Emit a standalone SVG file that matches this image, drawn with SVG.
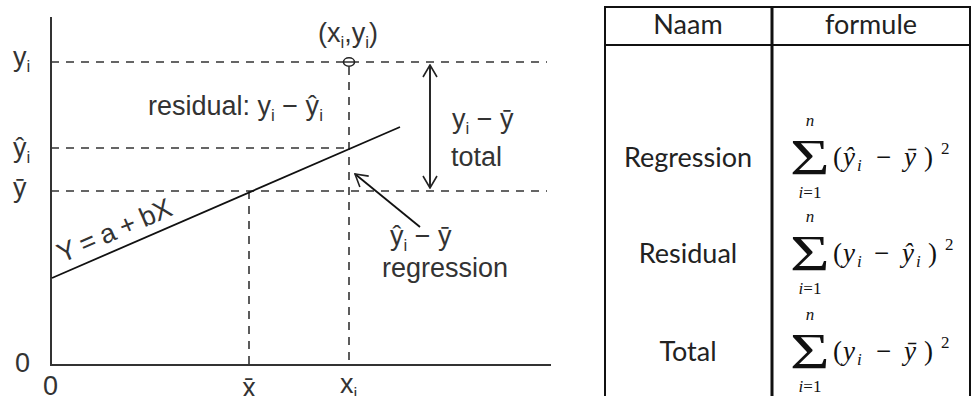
<svg xmlns="http://www.w3.org/2000/svg" width="971" height="396" viewBox="0 0 971 396">
<defs>
<style>
.lbl{font-family:"Liberation Sans",Arial,sans-serif;font-size:27px;fill:#333}
.sub{font-size:17px}
.tbl{font-family:Lato,"Liberation Sans",sans-serif;font-size:27px;fill:#222;text-anchor:middle}
.math{font-family:"Liberation Serif","DejaVu Serif",serif;font-style:italic;font-size:27px;fill:#111}
.up{font-style:normal}
.small{font-size:17px}
.dash{stroke:#333;stroke-width:1.6;stroke-dasharray:8 7;fill:none}
.axis{stroke:#333;stroke-width:2;fill:none}
.line{stroke:#111;stroke-width:1.8;fill:none}
.grid{stroke:#111;fill:none}
</style>
<marker id="ah" viewBox="0 0 14 16" refX="13" refY="8" markerWidth="14" markerHeight="16" markerUnits="userSpaceOnUse" orient="auto-start-reverse">
<path d="M1,1 L13,8 L1,15" fill="none" stroke="#222" stroke-width="1.6"/>
</marker>
</defs>
<rect width="971" height="396" fill="#fff"/>

<g id="axes">
<line class="axis" x1="51" y1="17" x2="51" y2="366"/>
<line class="axis" x1="50" y1="365" x2="551" y2="365"/>
</g>

<g id="connectors">
<line class="dash" x1="51" y1="62" x2="547" y2="62"/>
<line class="dash" x1="51" y1="148" x2="350" y2="148"/>
<line class="dash" x1="51" y1="191" x2="547" y2="191"/>
<line class="dash" x1="249" y1="191" x2="249" y2="364"/>
<line class="dash" x1="349" y1="67" x2="349" y2="364"/>
<line class="line" x1="52" y1="278" x2="400" y2="127"/>
<line class="line" x1="430" y1="65" x2="430" y2="188" marker-start="url(#ah)" marker-end="url(#ah)"/>
<line class="line" x1="420" y1="227" x2="355" y2="174" marker-end="url(#ah)"/>
</g>

<g id="point">
<ellipse cx="349" cy="62" rx="5.5" ry="4.2" fill="#fff" stroke="#222" stroke-width="1.6"/>
<line x1="343" y1="62" x2="355" y2="62" stroke="#222" stroke-width="1.4"/>
</g>

<g id="axis-labels">
<text class="lbl" x="13" y="66">y<tspan class="sub" dy="6">i</tspan></text>
<text class="lbl" x="13" y="157">ŷ<tspan class="sub" dy="6">i</tspan></text>
<text class="lbl" x="13" y="197">ȳ</text>
<text class="lbl" x="15" y="372">0</text>
<text class="lbl" x="43" y="395">0</text>
<text class="lbl" x="249" y="397" text-anchor="middle">x̄</text>
<text class="lbl" x="340" y="393">x<tspan class="sub" dy="6">i</tspan></text>
</g>

<g id="annotations">
<text class="lbl" x="318" y="42">(x<tspan class="sub" dy="6">i</tspan><tspan dy="-6">,y</tspan><tspan class="sub" dy="6">i</tspan><tspan dy="-6">)</tspan></text>
<text class="lbl" x="148" y="115">residual: y<tspan class="sub" dy="6">i</tspan><tspan dy="-6"> − ŷ</tspan><tspan class="sub" dy="6">i</tspan></text>
<text class="lbl" x="452" y="128">y<tspan class="sub" dy="6">i</tspan><tspan dy="-6"> − ȳ</tspan></text>
<text class="lbl" x="451" y="166">total</text>
<text class="lbl" x="390" y="245">ŷ<tspan class="sub" dy="6">i</tspan><tspan dy="-6"> − ȳ</tspan></text>
<text class="lbl" x="382" y="277">regression</text>
<text class="lbl" x="62" y="263" transform="rotate(-23.4 62 263)" textLength="122" lengthAdjust="spacing">Y = a + bX</text>
</g>

<g id="table">
<path class="grid" stroke-width="2" d="M605,396 V7 H970 V396"/>
<line class="grid" stroke-width="2" x1="605" y1="45" x2="970" y2="45"/>
<line class="grid" stroke-width="3" x1="772" y1="7" x2="772" y2="396"/>
<text class="tbl" x="688" y="34">Naam</text>
<text class="tbl" x="871" y="34">formule</text>
</g>

<g id="row-regression">
<text class="tbl" x="688" y="167">Regression</text>
<text class="math up" transform="translate(790 174) scale(1.36 1)" style="font-size:50px">Σ</text>
<text class="math small" x="810" y="126" text-anchor="middle">n</text>
<text class="math small" x="810" y="198" text-anchor="middle">i<tspan class="up">=1</tspan></text>
<text class="math"><tspan class="up" x="833" y="166">(</tspan><tspan x="843">ŷ</tspan><tspan class="small" x="857" dy="5">i</tspan><tspan class="up" x="876" dy="-5">−</tspan><tspan x="904">ȳ</tspan><tspan class="up" x="924">)</tspan><tspan class="up small" x="941" dy="-12">2</tspan></text>
</g>

<g id="row-residual">
<text class="tbl" x="688" y="263">Residual</text>
<text class="math up" transform="translate(790 270) scale(1.36 1)" style="font-size:50px">Σ</text>
<text class="math small" x="810" y="222" text-anchor="middle">n</text>
<text class="math small" x="810" y="294" text-anchor="middle">i<tspan class="up">=1</tspan></text>
<text class="math"><tspan class="up" x="833" y="262">(</tspan><tspan x="843">y</tspan><tspan class="small" x="857" dy="5">i</tspan><tspan class="up" x="874" dy="-5">−</tspan><tspan x="902">ŷ</tspan><tspan class="small" x="916" dy="5">i</tspan><tspan class="up" x="928" dy="-5">)</tspan><tspan class="up small" x="945" dy="-12">2</tspan></text>
</g>

<g id="row-total">
<text class="tbl" x="688" y="361">Total</text>
<text class="math up" transform="translate(790 368) scale(1.36 1)" style="font-size:50px">Σ</text>
<text class="math small" x="810" y="320" text-anchor="middle">n</text>
<text class="math small" x="810" y="392" text-anchor="middle">i<tspan class="up">=1</tspan></text>
<text class="math"><tspan class="up" x="833" y="360">(</tspan><tspan x="843">y</tspan><tspan class="small" x="857" dy="5">i</tspan><tspan class="up" x="876" dy="-5">−</tspan><tspan x="904">ȳ</tspan><tspan class="up" x="924">)</tspan><tspan class="up small" x="941" dy="-12">2</tspan></text>
</g>
</svg>
